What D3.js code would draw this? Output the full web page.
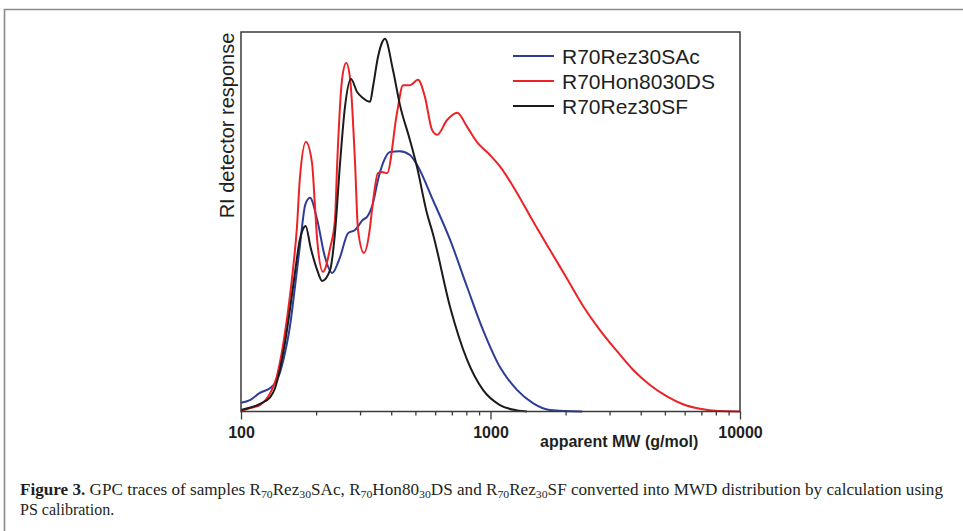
<!DOCTYPE html>
<html>
<head>
<meta charset="utf-8">
<script src="https://cdn.jsdelivr.net/npm/d3@7"></script>
<style>
  body { margin: 0; background: #fff; }
  svg { display: block; }
</style>
</head>
<body>
<svg id="chart" width="963" height="531"></svg>
<script>
// valeurs : [MW apparente, reponse RI (0-100)]
var sacData = [[100,2.3],[108.6,3.0],[119,4.9],[131,6.2],[137,7.5],[143,10.1],[150,15.4],[157,22.3],[164.5,32.8],[172,43.3],[181,54.5],[189,56.3],[202,50.5],[217,40.7],[232,36.5],[249.5,40.7],[268.6,47.0],[286.5,47.8],[308,50.5],[320,51.3],[338,54.9],[354,61.0],[371,65.5],[395.5,68.4],[433.5,68.6],[475.6,67.6],[507.5,65.0],[588,55.7],[689,45.2],[806,32.8],[933,21.5],[1091,11.7],[1277,5.7],[1479,2.2],[1730,0.4],[2329,0]];
var honData = [[100,0],[108.6,0.9],[119,1.7],[131,4.9],[139,9.1],[147,17.0],[154,26.0],[161.5,37.3],[167.6,48.6],[172,61.0],[182,71.0],[192.6,65.5],[198,53.9],[202,45.2],[213,36.8],[228,43.3],[238,50.5],[243,65.5],[254,87.4],[264,91.8],[274,87.4],[286.5,65.5],[294.5,47.8],[311,41.8],[329,48.6],[335,53.1],[354,62.8],[367,63.1],[385,62.8],[422,78.7],[446,86.0],[476,86.0],[512,87.4],[546,82.9],[583,74.2],[611,72.9],[670,76.8],[735,78.7],[806,75.0],[883,71.0],[995,67.6],[1091,64.6],[1277,57.6],[1479,50.2],[1730,42.6],[2027,35.0],[2350,27.8],[2750,21.4],[3213,15.9],[3725,11.0],[4357,7.0],[5096,4.0],[5911,1.9],[6917,0.7],[8200,0.1],[10000,0]];
var sfData = [[100,0.4],[119,2.0],[131,3.8],[137,6.2],[143,10.9],[150,18.0],[157,26.7],[164.5,36.5],[172,45.2],[177,48.0],[181.6,48.9],[190,43.3],[201.9,37.3],[211.5,34.4],[227.6,37.3],[238,47.0],[249.5,65.5],[261,80.2],[276,87.6],[292,84.2],[308,82.6],[329,81.6],[338,85.5],[354,93.4],[367,97.1],[377.6,98.2],[406.5,90.0],[433.5,80.8],[475.6,71.5],[507.5,64.4],[556,52.3],[588,46.8],[689,27.5],[806,13.6],[933,5.7],[1091,1.7],[1277,0.3],[1400,0]];

var seriesNames = ["R70Rez30SAc", "R70Hon8030DS", "R70Rez30SF"];
var seriesColors = ["#2e3d97", "#ec2227", "#1c1a1a"];
var seriesData = [sacData, honData, sfData];

var majorTicks = [100, 1000, 10000];
var minorTicks = [200,300,400,500,600,700,800,900,2000,3000,4000,5000,6000,7000,8000,9000];

var svg = d3.select("#chart");

// cadre gris de la page
svg.append("path")
    .attr("d", "M4.5,540 V9.5 H970")
    .attr("fill", "none")
    .attr("stroke", "#8a8a8a")
    .attr("stroke-width", 1.6);

var x = d3.scaleLog().domain([100, 10000]).range([241, 740]);
var y = d3.scaleLinear().domain([0, 100]).range([411.5, 32]);

var line = d3.line()
    .x(function(d) { return x(d[0]); })
    .y(function(d) { return y(d[1]); })
    .curve(d3.curveMonotoneX);

var g = svg.append("g");

seriesData.forEach(function(s, i) {
    g.append("path")
        .datum(s)
        .attr("fill", "none")
        .attr("stroke", seriesColors[i])
        .attr("stroke-width", 2)
        .attr("d", line);
});

// boite du graphe
g.append("rect")
    .attr("x", 241).attr("y", 32)
    .attr("width", 740 - 241).attr("height", 411.5 - 32)
    .attr("fill", "none")
    .attr("stroke", "#3a3a3a")
    .attr("stroke-width", 1.5);

// axe x
var xAxisMinor = d3.axisBottom(x).tickValues(minorTicks).tickSize(4).tickFormat("");
var xAxisMajor = d3.axisBottom(x).tickValues(majorTicks).tickSize(8).tickFormat(d3.format("d"));

g.append("g").attr("transform", "translate(0,411.5)").call(xAxisMinor)
    .call(function(a) { a.select(".domain").remove(); a.selectAll("line").attr("stroke", "#3a3a3a").attr("stroke-width", 1.3); });

g.append("g").attr("transform", "translate(0,411.5)").call(xAxisMajor)
    .call(function(a) {
        a.select(".domain").remove();
        a.selectAll("line").attr("stroke", "#3a3a3a").attr("stroke-width", 1.3);
        a.selectAll("text")
            .attr("y", 15)
            .attr("fill", "#231f20")
            .style("font-family", "Liberation Sans, Arial, sans-serif")
            .style("font-size", "16px")
            .style("font-weight", "bold");
    });

g.append("text")
    .attr("x", 540).attr("y", 447)
    .attr("fill", "#231f20")
    .style("font-family", "Liberation Sans, Arial, sans-serif")
    .style("font-size", "16px")
    .style("font-weight", "bold")
    .text("apparent MW (g/mol)");

g.append("text")
    .attr("transform", "translate(234,125.5) rotate(-90)")
    .attr("text-anchor", "middle")
    .attr("fill", "#231f20")
    .style("font-family", "Liberation Sans, Arial, sans-serif")
    .style("font-size", "20px")
    .text("RI detector response");

// legende
var legend = g.append("g").selectAll("g")
    .data(seriesNames)
    .enter().append("g")
    .attr("transform", function(d, i) { return "translate(0," + (56 + i * 25) + ")"; });

legend.append("line")
    .attr("x1", 513).attr("x2", 554)
    .attr("stroke", function(d, i) { return seriesColors[i]; })
    .attr("stroke-width", 2);

legend.append("text")
    .attr("x", 562).attr("y", 7.5)
    .attr("fill", "#231f20")
    .style("font-family", "Liberation Sans, Arial, sans-serif")
    .style("font-size", "21px")
    .text(function(d) { return d; });

// legende de la figure
var cap = svg.append("text")
    .attr("x", 20).attr("y", 495)
    .attr("textLength", 923)
    .attr("lengthAdjust", "spacingAndGlyphs")
    .attr("fill", "#231f20")
    .style("font-family", "Liberation Serif, Times New Roman, serif")
    .style("font-size", "16px");

var parts = [
    ["Figure 3.", "b"], [" GPC traces of samples R", ""], ["70", "s"], ["Rez", ""], ["30", "s"],
    ["SAc, R", ""], ["70", "s"], ["Hon80", ""], ["30", "s"], ["DS and R", ""], ["70", "s"],
    ["Rez", ""], ["30", "s"], ["SF converted into MWD distribution by calculation using", ""]
];
var prevSub = false;
parts.forEach(function(p) {
    var t = cap.append("tspan").text(p[0]);
    if (p[1] === "b") t.style("font-weight", "bold");
    if (p[1] === "s") { t.attr("dy", 3).style("font-size", "11px"); prevSub = true; }
    else if (prevSub) { t.attr("dy", -3); prevSub = false; }
});

svg.append("text")
    .attr("x", 20).attr("y", 515)
    .attr("fill", "#231f20")
    .style("font-family", "Liberation Serif, Times New Roman, serif")
    .style("font-size", "16px")
    .text("PS calibration.");
</script>
</body>
</html>
